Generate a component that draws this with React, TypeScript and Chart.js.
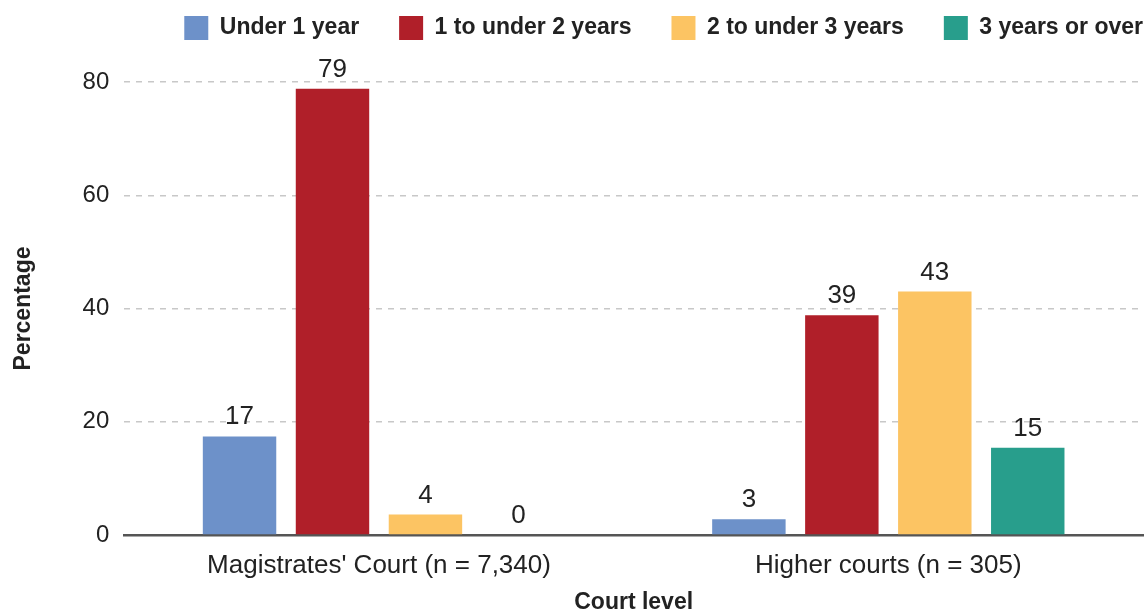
import React, { useEffect, useRef } from "react";
import { Chart, registerables } from "chart.js";

Chart.register(...registerables);

const categories = ["Magistrates' Court (n = 7,340)", "Higher courts (n = 305)"];
const seriesNames = ["Under 1 year", "1 to under 2 years", "2 to under 3 years", "3 years or over"];
const under1 = [17.4, 2.8];
const oneTo2 = [78.8, 38.8];
const twoTo3 = [3.6, 43.0];
const threePlus = [0, 15.4];
const colors = ["#6d91c9", "#b01f29", "#fcc463", "#289e8c"];
const yTicks = [0, 20, 40, 60, 80];

const FONT = "'Liberation Sans', Arial, sans-serif";
const LEGEND_PAD = 40;

const labelPlugin = {
  id: "barLabels",
  afterDatasetsDraw(chart: any) {
    const ctx = chart.ctx;
    ctx.save();
    ctx.font = `26px ${FONT}`;
    ctx.fillStyle = "#222";
    ctx.textAlign = "center";
    ctx.textBaseline = "alphabetic";
    chart.data.datasets.forEach((ds: any, i: number) => {
      const meta = chart.getDatasetMeta(i);
      meta.data.forEach((bar: any, j: number) => {
        const v = ds.data[j];
        ctx.fillText(String(Math.round(v)), bar.x, bar.y - 12);
      });
    });
    ctx.restore();
  },
};

const legendSpace = {
  id: "legendSpace",
  beforeInit(chart: any) {
    const lg = chart.legend;
    if (!lg) return;
    const orig = lg.fit;
    lg.fit = function () {
      orig.call(this);
      this.height = 82;
    };
  },
  afterLayout(chart: any) {
    const lg = chart.legend;
    if (!lg) return;
    lg.top = 16 - LEGEND_PAD;
    lg.right = 1143 + LEGEND_PAD;
  },
};

export default function App() {
  const ref = useRef<HTMLCanvasElement>(null);
  useEffect(() => {
    document.body.style.margin = "0";
    const seriesData = [under1, oneTo2, twoTo3, threePlus];
    const chart = new Chart(ref.current!, {
      type: "bar",
      data: {
        labels: categories,
        datasets: seriesNames.map((name, i) => ({
          label: name,
          data: seriesData[i],
          backgroundColor: colors[i],
          borderWidth: 0,
          categoryPercentage: 0.73,
          barPercentage: 0.79,
        })),
      },
      options: {
        animation: false,
        responsive: false,
        maintainAspectRatio: false,
        layout: { padding: { top: 0, right: 5, left: 6, bottom: 0 } },
        plugins: {
          legend: {
            position: "top",
            align: "end",
            labels: {
              boxWidth: 24,
              boxHeight: 24,
              padding: LEGEND_PAD,
              color: "#222",
              font: { family: FONT, size: 23, weight: "bold" },
            },
          },
          tooltip: { enabled: false },
        },
        scales: {
          x: {
            afterFit: (scale: any) => {
              scale.height = 76;
            },
            grid: { display: false, drawTicks: false },
            border: { display: true, color: "#555", width: 2.5 },
            ticks: { color: "#222", font: { family: FONT, size: 26, lineHeight: 1 }, padding: 18 },
            title: {
              display: true,
              text: "Court level",
              color: "#222",
              font: { family: FONT, size: 23, weight: "bold", lineHeight: 1 },
              padding: { top: 0, bottom: -3 },
            },
          },
          y: {
            min: 0,
            max: 80,
            afterBuildTicks: (axis: any) => {
              axis.ticks = yTicks.map((v) => ({ value: v }));
            },
            grid: {
              color: (c: any) => (c.tick && c.tick.value === 0 ? "rgba(0,0,0,0)" : "#c8c8c8"),
              lineWidth: 1.5,
              drawTicks: false,
            },
            border: { display: false, dash: [6, 6] },
            ticks: { color: "#222", font: { family: FONT, size: 24 }, padding: 15 },
            title: {
              display: true,
              text: "Percentage",
              color: "#222",
              font: { family: FONT, size: 23, weight: "bold" },
              padding: { bottom: 30 },
            },
          },
        },
      },
      plugins: [legendSpace, labelPlugin],
    });
    return () => chart.destroy();
  }, []);
  return (
    <div style={{ position: "absolute", left: 0, top: 0, width: 1148, height: 611 }}>
      <canvas ref={ref} width={1148} height={611} style={{ width: 1148, height: 611 }} />
    </div>
  );
}
